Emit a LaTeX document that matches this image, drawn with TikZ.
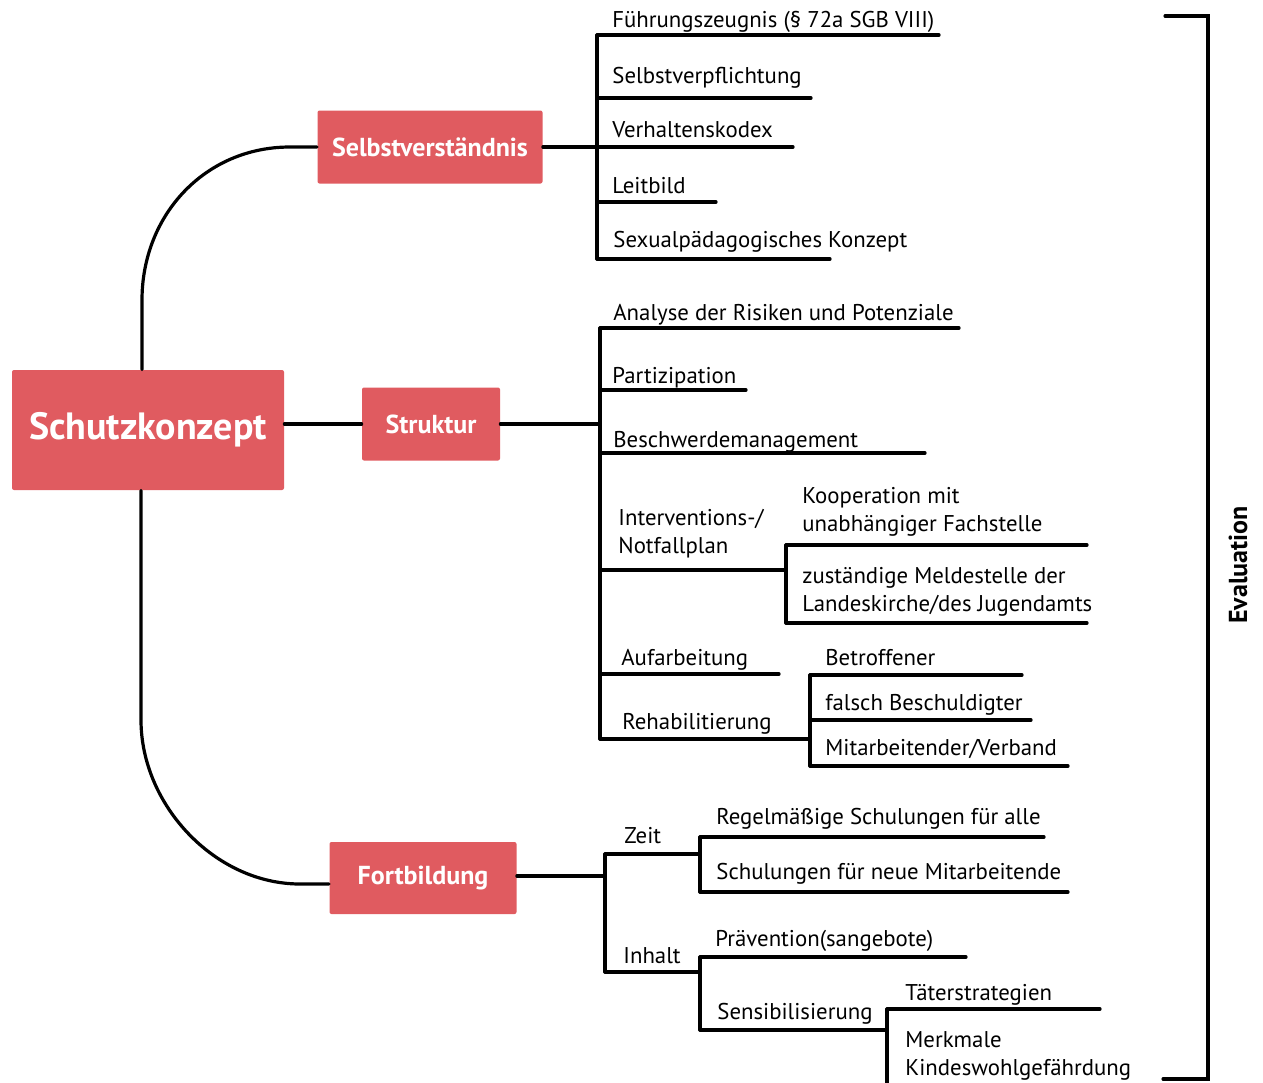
\documentclass[tikz,border=0pt]{standalone}
\usepackage{fontspec}
\setmainfont{PT Sans}
\definecolor{kastenrot}{RGB}{224,91,96}
\tikzset{
  kasten/.style={fill=kastenrot, text=white, font=\bfseries\fontsize{13}{15}\selectfont, inner sep=0pt, rounded corners=1pt},
  eintrag/.style={anchor=base west, inner sep=0pt, align=left, font=\fontsize{11.4}{14}\selectfont},
  ast/.style={line width=1.6pt, line cap=round},
}
\begin{document}
\begin{tikzpicture}[x=0.5pt,y=-0.5pt]
    \useasboundingbox (0,0) rectangle (1263,1082);

    % Kaesten
    \node[kasten, minimum width=136pt, minimum height=60pt, font=\bfseries\fontsize{19}{22}\selectfont] (sk) at (148,430) {Schutzkonzept};
    \node[kasten, minimum width=112.5pt, minimum height=36.5pt] (sv) at (430,147) {Selbstverständnis};
    \node[kasten, minimum width=69pt, minimum height=36.5pt] (st) at (431,424) {Struktur};
    \node[kasten, minimum width=93.5pt, minimum height=36pt] (fb) at (423,878) {Fortbildung};

    % Verbindungen
    \draw[ast] ([xshift=-3pt]sk.north) -- (142,300) .. controls (142,215) and (205,147) .. (290,147) -- (sv.west);
    \draw[ast] (sk.east |- st.west) -- (st.west);
    \draw[ast] ([xshift=-3.5pt]sk.south) -- (141,720) .. controls (141,805) and (215,884) .. (300,884) -- ([yshift=-3pt]fb.west);

    % Selbstverstaendnis
    \draw[ast] (sv.east) -- (597,147);
    \draw[ast] (597,35) -- (597,259);
    \draw[ast] (597,35) -- (939,35);
    \draw[ast] (597,98) -- (811,98);
    \draw[ast] (597,147) -- (793,147);
    \draw[ast] (597,202) -- (716,202);
    \draw[ast] (597,259) -- (830,259);
    \node[eintrag] (fz) at (612,27) {Führungszeugnis (§ 72a SGB VIII)};
    \node[eintrag] (sp) at (612,83) {Selbstverpflichtung};
    \node[eintrag] (vk) at (612,137) {Verhaltenskodex};
    \node[eintrag] (lb) at (612,193) {Leitbild};
    \node[eintrag] (sx) at (613,247) {Sexualpädagogisches Konzept};

    % Struktur
    \draw[ast] (st.east) -- (600,424);
    \draw[ast] (600,328) -- (600,739);
    \draw[ast] (600,328) -- (959,328);
    \draw[ast] (600,390) -- (746,390);
    \draw[ast] (600,453) -- (925,453);
    \draw[ast] (600,570) -- (786,570);
    \draw[ast] (600,674) -- (779,674);
    \draw[ast] (600,739) -- (810,739);
    \node[eintrag] (an) at (613,320) {Analyse der Risiken und Potenziale};
    \node[eintrag] (pa) at (612,383) {Partizipation};
    \node[eintrag] (bm) at (613,447) {Beschwerdemanagement};
    \node[eintrag] (ip) at (618,553) {Interventions-/\\Notfallplan};
    \node[eintrag] (af) at (621,665) {Aufarbeitung};
    \node[eintrag] (rh) at (622,729) {Rehabilitierung};

    % Notfallplan
    \draw[ast] (786,545) -- (786,623);
    \draw[ast] (786,545) -- (1087,545);
    \draw[ast] (786,623) -- (1087,623);
    \node[eintrag] (ko) at (802,531) {Kooperation mit\\unabhängiger Fachstelle};
    \node[eintrag] (ms) at (802,611) {zuständige Meldestelle der\\Landeskirche/des Jugendamts};

    % Rehabilitierung
    \draw[ast] (810,675) -- (810,766);
    \draw[ast] (810,675) -- (1022,675);
    \draw[ast] (810,720) -- (1031,720);
    \draw[ast] (810,766) -- (1068,766);
    \node[eintrag] (bt) at (825,665) {Betroffener};
    \node[eintrag] (fbs) at (825,710) {falsch Beschuldigter};
    \node[eintrag] (mv) at (825,755) {Mitarbeitender/Verband};

    % Fortbildung
    \draw[ast] ([yshift=1pt]fb.east) -- (605,876);
    \draw[ast] (605,854) -- (605,972);
    \draw[ast] (605,854) -- (700,854);
    \draw[ast] (605,972) -- (700,972);
    \node[eintrag] (ze) at (624,843) {Zeit};
    \node[eintrag] (ih) at (623,963) {Inhalt};

    % Zeit
    \draw[ast] (700,837) -- (700,892);
    \draw[ast] (700,837) -- (1044,837);
    \draw[ast] (700,892) -- (1068,892);
    \node[eintrag] (rs) at (716,824) {Regelmäßige Schulungen für alle};
    \node[eintrag] (sn) at (716,879) {Schulungen für neue Mitarbeitende};

    % Inhalt
    \draw[ast] (700,957) -- (700,1030);
    \draw[ast] (700,957) -- (966,957);
    \draw[ast] (700,1030) -- (887,1030);
    \node[eintrag] (pv) at (715,946) {Prävention(sangebote)};
    \node[eintrag] (se) at (717,1019) {Sensibilisierung};

    % Sensibilisierung
    \draw[ast] (887,1009) -- (887,1085);
    \draw[ast] (887,1009) -- (1100,1009);
    \node[eintrag] (ts) at (905,1000) {Täterstrategien};
    \node[eintrag] (mk) at (905,1075) {Merkmale\\Kindeswohlgefährdung};

    % Evaluation
    \draw[ast] (1165,16) -- (1208,16) -- (1208,1079) -- (1163,1079);
    \node[rotate=90, font=\bfseries\fontsize{13}{15}\selectfont] (ev) at (1238,565) {Evaluation};
\end{tikzpicture}
\end{document}
